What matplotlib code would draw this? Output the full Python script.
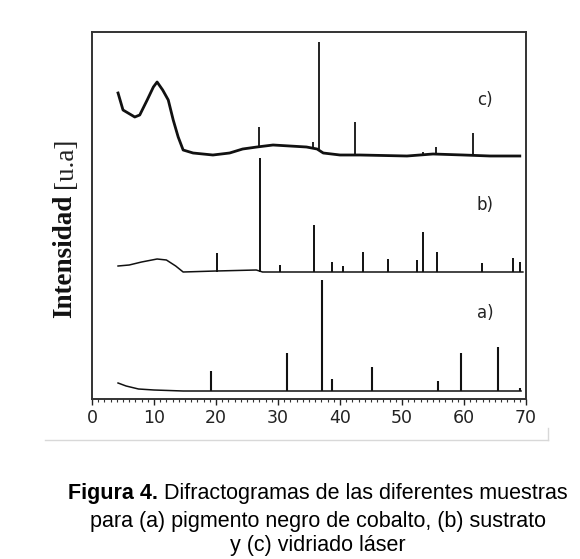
import matplotlib
matplotlib.use("Agg")
import matplotlib.pyplot as plt
from matplotlib.lines import Line2D
from matplotlib.ticker import MultipleLocator

W, H = 580, 559

# ---------------- data (2-theta in degrees, intensity in arbitrary units, stacked) ----------------
# (c) vidriado laser - background
c_bg_x = [4.2, 5.0, 6.9, 7.7, 8.9, 9.9, 10.5, 11.4, 12.3, 13.1, 13.9, 14.7, 16.3, 19.5,
          22.2, 24.3, 26.6, 29.2, 34.6, 36.3, 37.3, 40.0, 43.2, 50.8, 55.0, 59.9, 64.2, 69.0]
c_bg_y = [306, 289, 282, 284, 299, 312, 317, 309, 299, 279, 262, 249, 246, 244,
          246, 250, 252, 254, 252, 250, 246, 244, 244, 243, 245, 244, 243, 243]
c_pk_x = [27.0, 35.6, 36.6, 42.4, 53.4, 55.5, 61.5]
c_pk_base = [252, 252, 250, 244, 243, 244, 244]
c_pk_top = [272, 257, 357, 277, 247, 252, 266]

# (b) sustrato
b_bg_x = [4.2, 6.0, 8.0, 10.5, 12.0, 13.5, 14.7, 20.0, 26.5, 27.5, 69.5]
b_bg_y = [133, 134, 137, 140, 139, 133, 127, 128, 129, 127, 127]
b_pk_x = [20.1, 27.1, 30.3, 35.8, 38.7, 40.5, 43.7, 47.7, 52.4, 53.4, 55.6, 62.9, 67.9, 69.0]
b_pk_top = [146, 241, 134, 174, 137, 133, 147, 140, 139, 167, 147, 136, 141, 137]
b_base = 127

# (a) pigmento negro de cobalto
a_bg_x = [4.2, 5.5, 7.5, 10.0, 14.7, 69.2]
a_bg_y = [16, 13, 10, 9, 8, 8]
a_pk_x = [19.2, 31.4, 37.1, 38.7, 45.1, 55.8, 59.5, 65.5, 69.0]
a_pk_top = [28, 46, 119, 20, 32, 18, 46, 52, 11]
a_base = 8

series_labels = ["a)", "b)", "c)"]
label_x = 63.4
label_y = [86, 194, 299]

x_ticks = [0, 10, 20, 30, 40, 50, 60, 70]
y_label_bold = "Intensidad"
y_label_reg = "[u.a]"
caption_bold = "Figura 4."
caption_l1 = " Difractogramas de las diferentes muestras"
caption_l2 = "para (a) pigmento negro de cobalto, (b) sustrato"
caption_l3 = "y (c) vidriado láser"

# ---------------- figure ----------------
fig = plt.figure(figsize=(W / 100, H / 100), dpi=100)
fig.patch.set_facecolor("white")

def fx(px):
    return px / W

def fy(py):
    return 1 - py / H

ax_l, ax_r, ax_t, ax_b = 92, 526, 32, 399
ax = fig.add_axes([fx(ax_l), fy(ax_b), (ax_r - ax_l) / W, (ax_b - ax_t) / H])
ax.set_xlim(0, 70)
ax.set_ylim(0, 367)

col = "#111111"
ax.plot(c_bg_x, c_bg_y, color=col, lw=2.0, solid_joinstyle="round")
ax.vlines(c_pk_x, c_pk_base, c_pk_top, color=col, lw=1.3)
ax.plot(b_bg_x, b_bg_y, color=col, lw=1.1)
ax.vlines(b_pk_x, b_base, b_pk_top, color=col, lw=1.4)
ax.plot(a_bg_x, a_bg_y, color=col, lw=1.1)
ax.vlines(a_pk_x, a_base, a_pk_top, color=col, lw=1.5)

for lab, ly in zip(series_labels, label_y):
    ax.text(label_x, ly, lab, ha="center", va="center", fontsize=12,
            color="#222222", family="DejaVu Sans")

for s in ax.spines.values():
    s.set_color("#333333")
    s.set_linewidth(1.4)

ax.set_yticks([])
ax.xaxis.set_major_locator(MultipleLocator(10))
ax.xaxis.set_minor_locator(MultipleLocator(1))
ax.set_xticks(x_ticks)
ax.set_xticklabels([str(t) for t in x_ticks])
ax.tick_params(axis="x", which="major", direction="out", length=4.5, width=1.0,
               color="#222222", labelsize=12.5, pad=2.5, labelcolor="#222222")
ax.tick_params(axis="x", which="minor", direction="out", length=1.8, width=0.8,
               color="#333333")

# y label: bold "Intensidad" + regular "[u.a]" (rotated)
t1 = fig.text(fx(65), fy(318), y_label_bold, rotation=90, rotation_mode="anchor",
              ha="left", va="center", fontsize=19.5, fontweight="bold",
              family="Liberation Serif", color="#111111")
fig.canvas.draw()
r = fig.canvas.get_renderer()
bb = t1.get_window_extent(r)
top_px = H - bb.y1
fig.text(fx(65), fy(top_px - 7), y_label_reg, rotation=90, rotation_mode="anchor",
         ha="left", va="center", fontsize=19.5, family="Liberation Serif",
         color="#222222")

# light frame line below the chart
fig.add_artist(Line2D([fx(45), fx(548)], [fy(440), fy(440)], color="#d8d8d8", lw=1.0))
fig.add_artist(Line2D([fx(548), fx(548)], [fy(440), fy(428)], color="#d8d8d8", lw=1.0))

# caption
cap_fs = 15.5
tb = fig.text(0, fy(494), caption_bold, fontsize=cap_fs, fontweight="bold",
              family="Liberation Sans", va="center", ha="left")
tr = fig.text(0, fy(494), caption_l1, fontsize=cap_fs, family="Liberation Sans",
              va="center", ha="left")
fig.canvas.draw()
wb = tb.get_window_extent(r).width
wr = tr.get_window_extent(r).width
start = 318 - (wb + wr) / 2
tb.set_x(fx(start))
tr.set_x(fx(start + wb))
fig.text(fx(318), fy(521), caption_l2, fontsize=cap_fs, family="Liberation Sans",
         va="center", ha="center")
fig.text(fx(318), fy(546), caption_l3, fontsize=cap_fs, family="Liberation Sans",
         va="center", ha="center")

fig.savefig("out.png", dpi=100, facecolor="white")
